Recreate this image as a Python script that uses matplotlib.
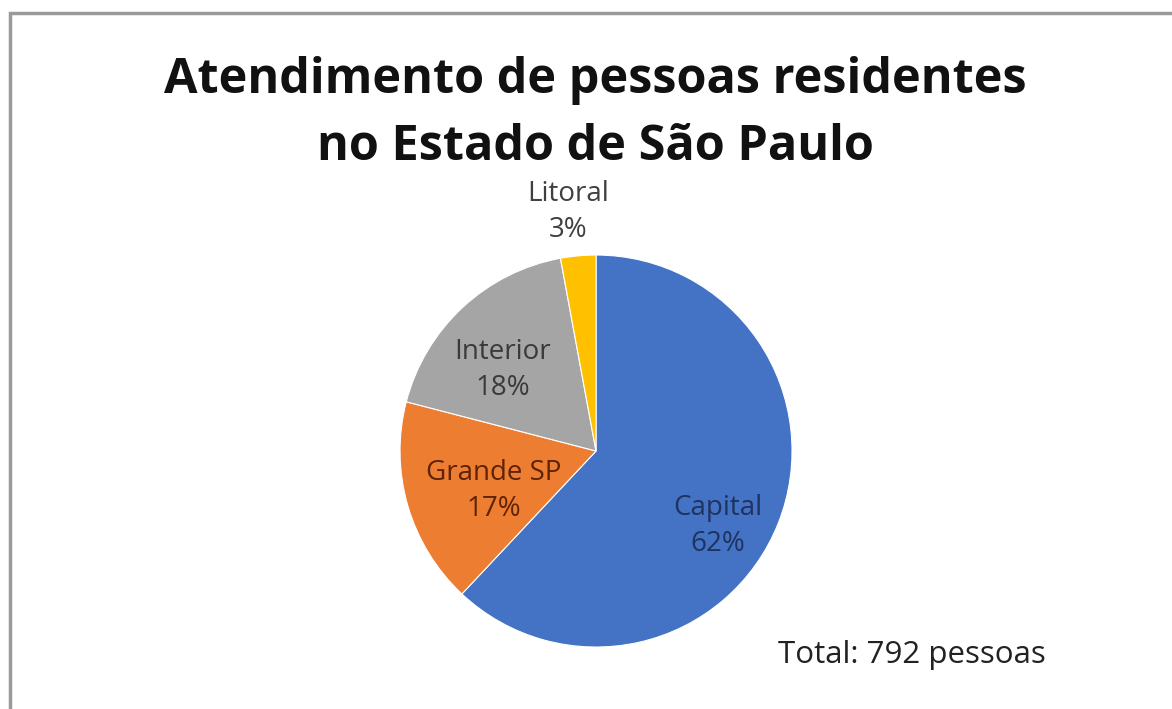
import numpy as np
import matplotlib.pyplot as plt
from matplotlib.patches import Rectangle

regioes = ["Capital", "Grande SP", "Interior", "Litoral"]
pessoas = [491, 135, 143, 23]
cores = ["#4472C4", "#ED7D31", "#A5A5A5", "#FFC000"]
cores_texto = ["#1F3360", "#5E2306", "#3A3A3A", "#404040"]
total = sum(pessoas)

# distancia do rotulo (fracao do raio) e ajuste de angulo, estilo "melhor ajuste"
dist_rotulo = [0.73, 0.56, 0.63, 1.23]
ajuste_ang = [-10, 5, 6, 1.5]

fig = plt.figure(figsize=(11.72, 7.09), dpi=100)
fig.patches.append(Rectangle((10 / 1172, -0.1), 1.2, (709 - 13) / 709 + 0.1,
                             transform=fig.transFigure, fill=False,
                             edgecolor="#9a9a9a", linewidth=2.5))

ax = fig.add_axes([0.3413, 0.0874, 0.3345, 0.5529])
wedges, _ = ax.pie(pessoas, colors=cores, startangle=90, counterclock=False,
                   radius=1, wedgeprops=dict(edgecolor="white", linewidth=0.8))
ax.set_xlim(-1, 1)
ax.set_ylim(-1, 1)
ax.set_aspect("equal")
ax.axis("off")

for w, nome, n, d, a, c in zip(wedges, regioes, pessoas, dist_rotulo,
                               ajuste_ang, cores_texto):
    ang = np.deg2rad((w.theta1 + w.theta2) / 2 + a)
    pct = round(100 * n / total)
    ax.text(d * np.cos(ang), d * np.sin(ang), f"{nome}\n{pct}%",
            ha="center", va="center", fontsize=20, family="Open Sans",
            color=c, linespacing=1.38)

fig.text(0.5077, 0.8688, "Atendimento de pessoas residentes", ha="center",
         va="baseline", fontsize=35, fontweight="bold", family="Open Sans",
         color="#111111")
fig.text(0.5077, 0.7743, "no Estado de São Paulo", ha="center",
         va="baseline", fontsize=35, fontweight="bold", family="Open Sans",
         color="#111111")

fig.text(0.664, 0.0762, f"Total: {total} pessoas", ha="left", va="center",
         fontsize=22.5, family="Open Sans", color="#222222")

fig.savefig("out.png", dpi=100)
